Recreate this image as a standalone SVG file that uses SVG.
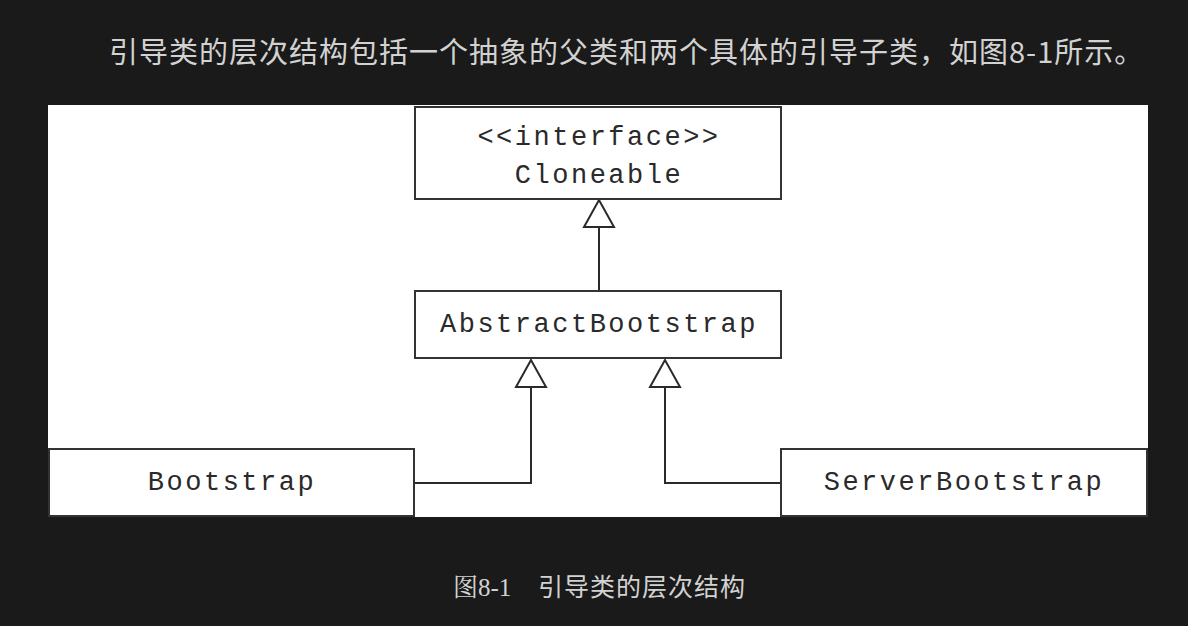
<svg xmlns="http://www.w3.org/2000/svg" width="1188" height="626" viewBox="0 0 1188 626">
<defs>
<style>
.box{fill:#ffffff;stroke:#333333;stroke-width:2}
.mono{font-family:"Liberation Mono","Courier New",monospace;font-size:27px;letter-spacing:2.5px;fill:#2a2a2a;text-anchor:middle}
.edge{fill:none;stroke:#2a2a2a;stroke-width:2}
.head{fill:#ffffff;stroke:#2a2a2a;stroke-width:2;stroke-linejoin:miter}
.cn{font-family:"Noto Sans CJK SC","Noto Sans",sans-serif;fill:#d2d2d2}
</style>
</defs>
<rect x="0" y="0" width="1188" height="626" fill="#1a1a1a"/>
<text class="cn" x="109" y="63" font-size="29" letter-spacing="1">引导类的层次结构包括一个抽象的父类和两个具体的引导子类，如图8-1所示。</text>
<rect x="48" y="105" width="1100" height="412" fill="#ffffff"/>
<g id="connectors">
<path class="edge" d="M599,227 V291"/>
<polygon class="head" points="599,200 584,227 614,227"/>
<path class="edge" d="M414,483 H531 V387"/>
<polygon class="head" points="531,360 516,387 546,387"/>
<path class="edge" d="M781,483 H665 V387"/>
<polygon class="head" points="665,360 650,387 680,387"/>
</g>
<g id="cloneable">
<rect class="box" x="415" y="107" width="366" height="92"/>
<text class="mono" x="599" y="145">&lt;&lt;interface&gt;&gt;</text>
<text class="mono" x="599" y="183">Cloneable</text>
</g>
<g id="abstractbootstrap">
<rect class="box" x="415" y="291" width="366" height="67"/>
<text class="mono" x="599" y="332">AbstractBootstrap</text>
</g>
<g id="bootstrap">
<rect class="box" x="49" y="449" width="365" height="67"/>
<text class="mono" x="232" y="490">Bootstrap</text>
</g>
<g id="serverbootstrap">
<rect class="box" x="781" y="449" width="366" height="67"/>
<text class="mono" x="964" y="490">ServerBootstrap</text>
</g>
<text class="cn" y="596" font-size="25" fill="#c8c8c8"><tspan x="453" font-family="Liberation Serif, Noto Serif CJK SC, Noto Sans CJK SC, serif">图8-1</tspan><tspan x="538" letter-spacing="1">引导类的层次结构</tspan></text>
</svg>
